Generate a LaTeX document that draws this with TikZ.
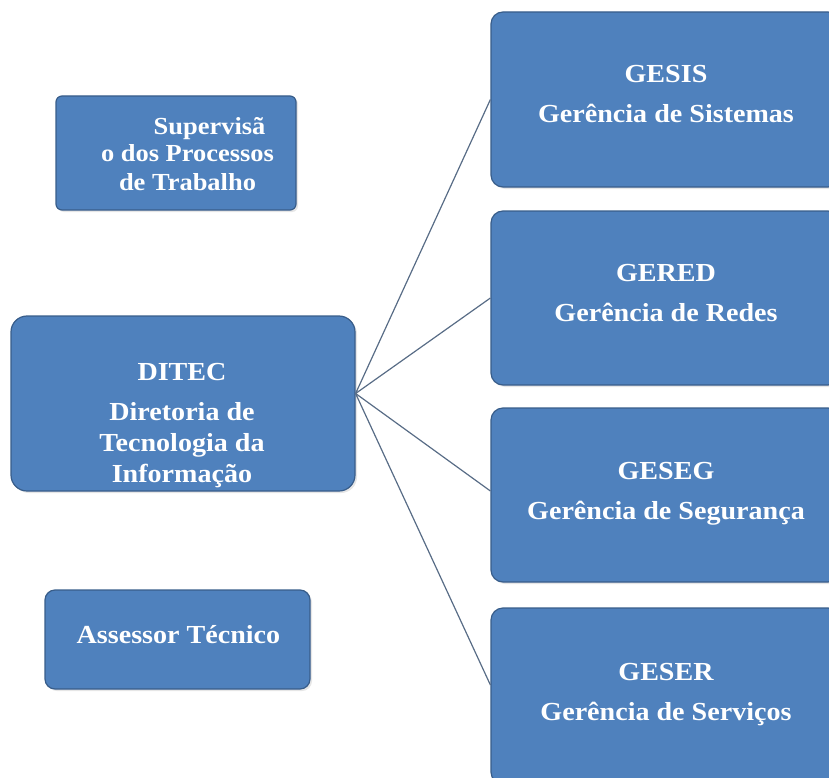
\documentclass[tikz,border=0pt]{standalone}
\usepackage{fontspec}
\setmainfont{Liberation Serif}[FakeStretch=1.08]
\usetikzlibrary{shadows}

\begin{document}
\begin{tikzpicture}[x=1pt, y=-1pt,
    unitbox/.style={draw=unitborder, line width=1.2pt, fill=unitfill, rounded corners=12pt,
        inner sep=0pt, drop shadow={opacity=0.2, shadow xshift=2pt, shadow yshift=-2pt}},
    unittext/.style={text=white, font=\bfseries\fontsize{26}{31}\selectfont, align=center,
        inner sep=0pt, anchor=base},
    link/.style={draw=linkcolor, line width=1.2pt}]
    % Define colors
    \definecolor{unitfill}{RGB}{79, 129, 189}
    \definecolor{unitborder}{RGB}{56, 93, 138}
    \definecolor{linkcolor}{RGB}{88, 108, 134}

    % Canvas
    \useasboundingbox (0, 0) rectangle (829, 778);
    \clip (0, 0) rectangle (829, 778);

    % Left column
    \node[unitbox, rounded corners=6pt, minimum width=240, minimum height=114] (superv) at (176, 153) {};
    \node[unittext, font=\bfseries\fontsize{24.5}{28}\selectfont] (supervtxt) at (187.5, 190)
        {\hspace*{1.8em}Supervisã\\o dos Processos\\de Trabalho};

    \node[unitbox, rounded corners=16pt, minimum width=344, minimum height=175] (ditec) at (183, 403.5) {};
    \node[unittext] (ditectxt) at (182, 482)
        {DITEC\\[9pt]Diretoria de\\Tecnologia da\\Informação};

    \node[unitbox, rounded corners=10pt, minimum width=265, minimum height=99] (assessor) at (177.5, 639.5) {};
    \node[unittext] (assessortxt) at (178.5, 643) {Assessor Técnico};

    % Right column (managements)
    \node[unitbox, minimum width=349, minimum height=175] (gesis) at (665.5, 99.5) {};
    \node[unittext] (gesistxt) at (666, 123) {GESIS\\[9pt]Gerência de Sistemas};

    \node[unitbox, minimum width=349, minimum height=174] (gered) at (665.5, 298) {};
    \node[unittext] (geredtxt) at (666, 321.5) {GERED\\[9pt]Gerência de Redes};

    \node[unitbox, minimum width=349, minimum height=174] (geseg) at (665.5, 495) {};
    \node[unittext] (gesegtxt) at (666, 519.5) {GESEG\\[9pt]Gerência de Segurança};

    \node[unitbox, minimum width=349, minimum height=176] (geser) at (665.5, 696) {};
    \node[unittext] (gesertxt) at (666, 720) {GESER\\[9pt]Gerência de Serviços};

    % Links
    \draw[link] ([yshift=10pt]ditec.east) -- (gesis.west);
    \draw[link] ([yshift=10pt]ditec.east) -- (gered.west);
    \draw[link] ([yshift=10pt]ditec.east) -- ([yshift=4pt]geseg.west);
    \draw[link] ([yshift=10pt]ditec.east) -- ([yshift=11pt]geser.west);
\end{tikzpicture}
\end{document}
